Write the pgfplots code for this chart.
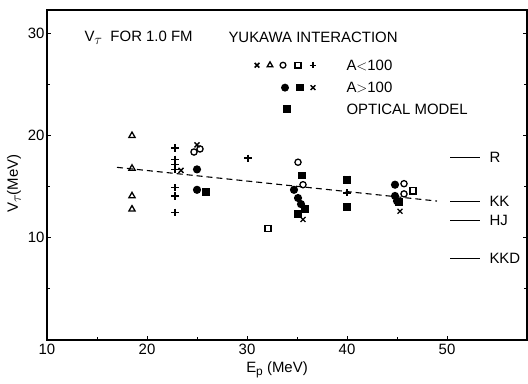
\documentclass[border=0pt]{standalone}
\usepackage{pgfplots}
\pgfplotsset{compat=1.18}
\usepackage{fontspec}
\setmainfont{Liberation Sans}
\newcommand{\Vt}{V\raisebox{-3bp}{$\tau$}}
\begin{document}
\begin{tikzpicture}[font=\fontsize{15}{17}\selectfont]
\begin{axis}[
  scale only axis, width=480bp, height=330bp,
  xmin=10, xmax=58, ymin=0, ymax=32.3,
  clip=false,
  axis line style={line width=1.3bp},
  xtick={10,20,30,40,50}, minor xtick={15,25,35,45},
  ytick={10,20,30}, minor ytick={5,15,25},
  xtick pos=left, ytick pos=both,
  tick align=inside,
  major tick length=4bp, minor tick length=3bp,
  tick style={line width=1bp, black},
  /pgf/number format/assume math mode=true,
  xticklabel style={yshift=-1bp},
  yticklabel style={xshift=1bp},
  every axis plot/.append style={only marks, black, line width=1.3bp},
]
% dashed fit line
\addplot[no marks, sharp plot, dashed, dash pattern=on 6bp off 4bp, line width=1.1bp] coordinates {(17,16.9) (49,13.6)};
% open triangles (A<100)
\addplot[mark=triangle, mark size=3.6bp] coordinates {(18.5,20.0) (18.5,16.8) (18.5,14.1) (18.5,12.8)};
% plus (A<100)
\addplot[mark=+, mark size=3.6bp] coordinates {(22.8,18.8) (22.8,17.7) (22.8,17.2) (22.8,16.7) (22.8,14.9) (22.8,14.1) (22.8,12.5) (30.1,17.8) (40.0,14.4)};
% open circles (A<100)
\addplot[mark=o, mark size=3.1bp] coordinates {(24.7,18.4) (25.3,18.7) (35.1,17.4) (35.6,15.2) (45.7,15.3) (45.7,14.3)};
% open squares (A<100)
\addplot[mark=square, mark size=3.1bp] coordinates {(32.1,10.9) (46.6,14.6)};
% crosses
\addplot[mark=x, mark size=3.5bp] coordinates {(25.0,19.1) (23.4,16.6) (35.6,11.8) (45.3,12.6)};
% filled circles (A>100)
\addplot[mark=*, mark size=3.4bp] coordinates {(25.0,16.7) (25.0,14.7) (34.7,14.7) (35.1,13.9) (35.4,13.3) (44.8,15.2) (44.8,14.1) (45.0,13.6)};
% filled squares (A>100)
\addplot[mark=square*, mark size=3.3bp] coordinates {(25.9,14.5) (35.5,16.1) (35.8,12.8) (35.1,12.3) (45.2,13.5)};
% optical model
\addplot[mark=square*, mark size=3.4bp] coordinates {(40.0,15.7) (40.0,13.0)};
\addplot[mark=x, mark size=4.6bp, line width=1.4bp] coordinates {(40.0,15.7) (40.0,13.0)};
% legend markers
\addplot[mark=x, mark size=3.3bp, line width=1.6bp] coordinates {(31.0,26.9)};
\addplot[mark=triangle, mark size=3.3bp] coordinates {(32.3,26.9)};
\addplot[mark=o, mark size=2.9bp] coordinates {(33.6,26.9)};
\addplot[mark=square, mark size=2.9bp] coordinates {(35.1,26.9)};
\addplot[mark=+, mark size=3.3bp] coordinates {(36.6,26.9)};
\addplot[mark=*, mark size=3.3bp] coordinates {(33.8,24.7)};
\addplot[mark=square*, mark size=3.2bp] coordinates {(35.3,24.7)};
\addplot[mark=x, mark size=3.3bp] coordinates {(36.6,24.7)};
\addplot[mark=square*, mark size=3.3bp] coordinates {(34.0,22.6)};
\addplot[mark=x, mark size=4.4bp, line width=1.4bp] coordinates {(34.0,22.6)};
% reference lines on the right
\addplot[no marks, sharp plot, line width=1.1bp] coordinates {(50.3,17.9) (53.3,17.9)};
\addplot[no marks, sharp plot, line width=1.1bp] coordinates {(50.3,13.6) (53.3,13.6)};
\addplot[no marks, sharp plot, line width=1.1bp] coordinates {(50.3,11.7) (53.3,11.7)};
\addplot[no marks, sharp plot, line width=1.1bp] coordinates {(50.3,8.0) (53.3,8.0)};
\node[anchor=west] at (axis cs:53.9,17.9) {R};
\node[anchor=west] at (axis cs:53.9,13.6) {KK};
\node[anchor=west] at (axis cs:53.9,11.7) {HJ};
\node[anchor=west] at (axis cs:53.9,8.0) {KKD};
% texts
\node[anchor=west] at (axis cs:13.4,29.6) {\Vt\ \ FOR 1.0 FM};
\node[anchor=west] at (axis cs:27.8,29.6) {YUKAWA INTERACTION};
\node[anchor=west] at (axis cs:39.6,26.9) {A$<$100};
\node[anchor=west] at (axis cs:39.6,24.7) {A$>$100};
\node[anchor=west] at (axis cs:39.6,22.6) {OPTICAL MODEL};
\node at ([yshift=-30bp]axis cs:33,0) {E\raisebox{-3bp}{\fontsize{12}{14}\selectfont p} (MeV)};
\node[rotate=90] at ([xshift=-33bp]axis cs:10,15.3) {\Vt(MeV)};
\end{axis}
\pgfresetboundingbox
\path ([shift={(-47bp,-43bp)}]current axis.south west) rectangle ([shift={(1bp,10bp)}]current axis.north east);
\end{tikzpicture}
\end{document}
